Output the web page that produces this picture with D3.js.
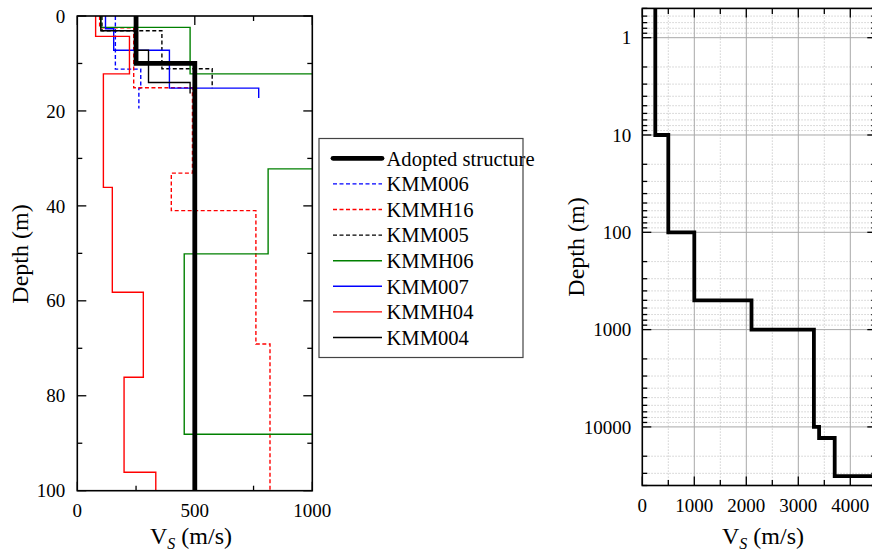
<!DOCTYPE html>
<html><head><meta charset="utf-8">
<script src="https://cdn.jsdelivr.net/npm/d3@7"></script>
</head>
<body style="margin:0;background:#fff"><svg id="c" width="872" height="557"></svg>
<script>
// ---------- data ----------
const adoptedVs    = [250, 500];
const adoptedDepth = [0, 10, 100];

const kmm006Vs    = [162, 270, 262];
const kmm006Depth = [0, 11.2, 15.2, 19.5];

const kmmh16Vs    = [95, 240, 490, 400, 760, 820];
const kmmh16Depth = [0, 2.5, 15.1, 33.1, 41, 69.1, 100];

const kmm005Vs    = [105, 360, 574];
const kmm005Depth = [0, 3.1, 11.1, 15.2];

const kmmh06Vs    = [100, 480, 1200, 812, 455, 1200];
const kmmh06Depth = [0, 2.4, 12.2, 32.2, 50.1, 88.1, 100];

const kmm007Vs    = [120, 155, 392, 772];
const kmm007Depth = [0, 2.7, 7.2, 15.2, 17.3];

const kmmh04Vs    = [78, 222, 111, 149, 281, 199, 334];
const kmmh04Depth = [0, 4.3, 12.2, 36.1, 58.2, 76.1, 96.1, 100];

const kmm004Vs    = [100, 250, 303, 480];
const kmm004Depth = [0, 3.1, 7.2, 14.0, 16.3];

// deep adopted structure (right panel)
const deepVs    = [250, 500, 1000, 2100, 3300, 3400, 3700, 4600];
const deepDepth = [0.5, 10, 100, 500, 1000, 10000, 13000, 32000, 40000];

const leftXTicks  = [0, 500, 1000];
const leftYTicks  = [0, 20, 40, 60, 80, 100];
const rightXTicks = [0, 1000, 2000, 3000, 4000];
const rightYTicks = [1, 10, 100, 1000, 10000];

const legendNames = ["Adopted structure","KMM006","KMMH16","KMM005","KMMH06","KMM007","KMMH04","KMM004"];

// ---------- helpers ----------
function stepPoints(vs, depth){
  const pts=[];
  vs.forEach((v,i)=>{pts.push([v,depth[i]]);pts.push([v,depth[i+1]]);});
  return pts;
}
const svg=d3.select("#c");
const FONT="'Liberation Serif'";

// ---------- left panel ----------
const L={x0:77.3,x1:312.3,y0:16,y1:490.7};
const lx=d3.scaleLinear().domain([0,1000]).range([L.x0,L.x1]);
const ly=d3.scaleLinear().domain([0,100]).range([L.y0,L.y1]);

svg.append("clipPath").attr("id","clipL").append("rect")
  .attr("x",L.x0).attr("y",L.y0).attr("width",L.x1-L.x0).attr("height",L.y1-L.y0);

const profiles=[
  {vs:kmm006Vs,d:kmm006Depth,c:"#0000ff",dash:"4,2.5",w:1.4},
  {vs:kmmh16Vs,d:kmmh16Depth,c:"#ff0000",dash:"4,2.5",w:1.4},
  {vs:kmm005Vs,d:kmm005Depth,c:"#000000",dash:"4,2.5",w:1.4},
  {vs:kmmh06Vs,d:kmmh06Depth,c:"#008000",dash:null,w:1.4},
  {vs:kmm007Vs,d:kmm007Depth,c:"#0000ff",dash:null,w:1.4},
  {vs:kmmh04Vs,d:kmmh04Depth,c:"#ff0000",dash:null,w:1.4},
  {vs:kmm004Vs,d:kmm004Depth,c:"#000000",dash:null,w:1.4},
  {vs:adoptedVs,d:adoptedDepth,c:"#000000",dash:null,w:4.8}
];
const lineL=d3.line().x(p=>lx(p[0])).y(p=>ly(p[1]));
const gL=svg.append("g").attr("clip-path","url(#clipL)");
profiles.forEach(p=>{
  gL.append("path").attr("d",lineL(stepPoints(p.vs,p.d)))
    .attr("fill","none").attr("stroke",p.c).attr("stroke-width",p.w)
    .attr("stroke-dasharray",p.dash).attr("stroke-linejoin","miter").attr("stroke-linecap","butt");
});

function addTicksL(){
  const g=svg.append("g").attr("stroke","#000").attr("stroke-width",1.3);
  d3.range(0,1001,250).forEach(v=>{
    const len = v%500===0?9:5;
    g.append("line").attr("x1",lx(v)).attr("x2",lx(v)).attr("y1",L.y1).attr("y2",L.y1-len);
    g.append("line").attr("x1",lx(v)).attr("x2",lx(v)).attr("y1",L.y0).attr("y2",L.y0+len);
  });
  d3.range(0,101,10).forEach(v=>{
    const len = v%20===0?9:5;
    g.append("line").attr("y1",ly(v)).attr("y2",ly(v)).attr("x1",L.x0).attr("x2",L.x0+len);
    g.append("line").attr("y1",ly(v)).attr("y2",ly(v)).attr("x1",L.x1).attr("x2",L.x1-len);
  });
}
addTicksL();
svg.append("rect").attr("x",L.x0).attr("y",L.y0).attr("width",L.x1-L.x0).attr("height",L.y1-L.y0)
  .attr("fill","none").attr("stroke","#000").attr("stroke-width",1.6);

function txt(x,y,s,size,anchor){
  return svg.append("text").attr("x",x).attr("y",y).style("font-family",FONT)
    .attr("font-size",size).attr("text-anchor",anchor).attr("fill","#000").text(s);
}
leftXTicks.forEach(v=>txt(lx(v),L.y1+26,v,19,"middle"));
leftYTicks.forEach(v=>txt(L.x0-12,ly(v),v,19,"end").attr("dy","0.35em"));

function vsTitle(cx,y){
  const t=svg.append("text").attr("x",cx).attr("y",y).attr("text-anchor","middle")
    .style("font-family",FONT).attr("font-size",24);
  t.append("tspan").text("V");
  t.append("tspan").attr("font-size",16).attr("font-style","italic").attr("dy",5).text("S");
  t.append("tspan").attr("dy",-5).text(" (m/s)");
}
vsTitle(191,544);
svg.append("text").attr("transform","translate(28,254) rotate(-90)").attr("text-anchor","middle")
  .style("font-family",FONT).attr("font-size",24).text("Depth (m)");

// ---------- legend ----------
const lg=svg.append("g");
lg.append("rect").attr("x",319).attr("y",138.5).attr("width",204).attr("height",219)
  .attr("fill","#fff").attr("stroke","#444").attr("stroke-width",1.2);
const legStyles=[profiles[7],profiles[0],profiles[1],profiles[2],profiles[3],profiles[4],profiles[5],profiles[6]];
legendNames.forEach((n,i)=>{
  const y=158.3+i*25.6;
  const s=legStyles[i];
  lg.append("line").attr("x1",333).attr("x2",382).attr("y1",y).attr("y2",y)
    .attr("stroke",s.c).attr("stroke-width",i===0?4.8:1.4).attr("stroke-dasharray",s.dash)
    .attr("stroke-linecap",i===0?"round":"butt");
  lg.append("text").attr("x",386.5).attr("y",y).attr("dy","0.35em")
    .style("font-family",FONT).attr("font-size",20.6).text(n);
});

// ---------- right panel ----------
const R={x0:642.3,x1:876.3,y0:8.4,y1:485.5};
const rx=d3.scaleLinear().domain([0,4500]).range([R.x0,R.x1]);
const ry=d3.scaleLog().domain([0.5,40000]).range([R.y0,R.y1]);

svg.append("clipPath").attr("id","clipR").append("rect")
  .attr("x",R.x0).attr("y",R.y0).attr("width",R.x1-R.x0).attr("height",R.y1-R.y0);
const gR=svg.append("g").attr("clip-path","url(#clipR)");

const minorY=[];
[-1,0,1,2,3,4].forEach(e=>{for(let m=2;m<10;m++){const v=m*Math.pow(10,e); if(v>=0.5&&v<=40000) minorY.push(v);} });
minorY.forEach(v=>gR.append("line").attr("x1",R.x0).attr("x2",R.x1).attr("y1",ry(v)).attr("y2",ry(v))
  .attr("stroke","#c4c4c4").attr("stroke-width",0.8).attr("stroke-dasharray","1.5,1.5"));
d3.range(500,4500,1000).forEach(v=>gR.append("line").attr("x1",rx(v)).attr("x2",rx(v)).attr("y1",R.y0).attr("y2",R.y1)
  .attr("stroke","#c4c4c4").attr("stroke-width",0.8).attr("stroke-dasharray","1.5,1.5"));
rightYTicks.forEach(v=>gR.append("line").attr("x1",R.x0).attr("x2",R.x1).attr("y1",ry(v)).attr("y2",ry(v))
  .attr("stroke","#a8a8a8").attr("stroke-width",1));
rightXTicks.slice(1).forEach(v=>gR.append("line").attr("x1",rx(v)).attr("x2",rx(v)).attr("y1",R.y0).attr("y2",R.y1)
  .attr("stroke","#a8a8a8").attr("stroke-width",1));

const lineR=d3.line().x(p=>rx(p[0])).y(p=>ry(p[1]));
gR.append("path").attr("d",lineR(stepPoints(deepVs,deepDepth))).attr("fill","none")
  .attr("stroke","#000").attr("stroke-width",3.8).attr("stroke-linejoin","miter");

const gt=svg.append("g").attr("stroke","#000").attr("stroke-width",1.3);
d3.range(0,4501,500).forEach(v=>{
  const len=v%1000===0?9:5.5;
  gt.append("line").attr("x1",rx(v)).attr("x2",rx(v)).attr("y1",R.y1).attr("y2",R.y1-len);
  gt.append("line").attr("x1",rx(v)).attr("x2",rx(v)).attr("y1",R.y0).attr("y2",R.y0+len);
});
minorY.concat(rightYTicks).forEach(v=>{
  const len=rightYTicks.includes(v)?9:5;
  gt.append("line").attr("y1",ry(v)).attr("y2",ry(v)).attr("x1",R.x0).attr("x2",R.x0+len);
  gt.append("line").attr("y1",ry(v)).attr("y2",ry(v)).attr("x1",R.x1).attr("x2",R.x1-len);
});
svg.append("rect").attr("x",R.x0).attr("y",R.y0).attr("width",R.x1-R.x0).attr("height",R.y1-R.y0)
  .attr("fill","none").attr("stroke","#000").attr("stroke-width",1.6);

rightXTicks.forEach(v=>txt(rx(v),R.y1+26,v,19,"middle"));
rightYTicks.forEach(v=>txt(R.x0-11,ry(v),v,19,"end").attr("dy","0.35em"));
vsTitle(763,544);
svg.append("text").attr("transform","translate(584,247) rotate(-90)").attr("text-anchor","middle")
  .style("font-family",FONT).attr("font-size",24).text("Depth (m)");
</script></body></html>
